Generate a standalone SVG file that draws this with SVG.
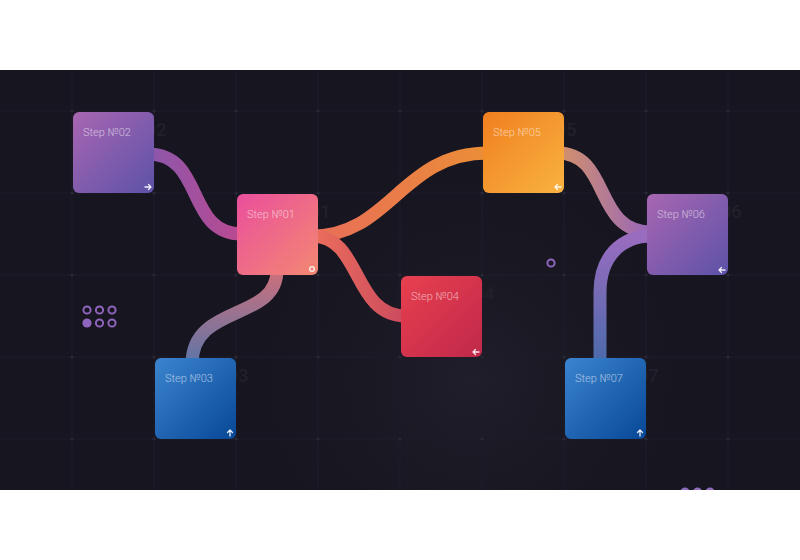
<svg xmlns="http://www.w3.org/2000/svg" width="800" height="560" viewBox="0 0 800 560">
<defs>
<style>
.grid line{stroke:#1f1d2a;stroke-width:1}
.gdot{fill:#2a2836}
.lbl{font-family:Roboto,"Liberation Sans",sans-serif;font-weight:300;font-size:11px;fill:#ffffff;fill-opacity:0.6}
.num{font-family:Roboto,"Liberation Sans",sans-serif;font-weight:500;font-size:18px;fill:#22202b}
.conn path{fill:none;stroke-width:13}
.icon{fill:none;stroke:#ffffff;stroke-opacity:0.9;stroke-width:1.3;stroke-linecap:round;stroke-linejoin:round}
.ring{fill:none;stroke:#8f64bd;stroke-width:2}
</style>
<clipPath id="dark"><rect x="0" y="70" width="800" height="420"/></clipPath>
<radialGradient id="bgGlow" cx="470" cy="380" r="260" gradientUnits="userSpaceOnUse">
<stop offset="0" stop-color="#201e2a"/><stop offset="1" stop-color="#17151f" stop-opacity="0"/>
</radialGradient>
<linearGradient id="gPurple" x1="0" y1="0" x2="1" y2="1"><stop offset="0" stop-color="#a866b2"/><stop offset="1" stop-color="#5d52a8"/></linearGradient>
<linearGradient id="gPink" x1="0" y1="0" x2="1" y2="1"><stop offset="0" stop-color="#ea4f9c"/><stop offset="1" stop-color="#f38872"/></linearGradient>
<linearGradient id="gBlue" x1="0" y1="0" x2="1" y2="1"><stop offset="0" stop-color="#3c84cf"/><stop offset="1" stop-color="#074896"/></linearGradient>
<linearGradient id="gRed" x1="0" y1="0" x2="1" y2="1"><stop offset="0" stop-color="#e8404f"/><stop offset="1" stop-color="#c0284a"/></linearGradient>
<linearGradient id="gOrange" x1="0" y1="0" x2="1" y2="1"><stop offset="0" stop-color="#f07f1f"/><stop offset="1" stop-color="#f9b341"/></linearGradient>
<linearGradient id="c1" gradientUnits="userSpaceOnUse" x1="155" y1="0" x2="237" y2="0"><stop offset="0" stop-color="#8e56aa"/><stop offset="1" stop-color="#b84a92"/></linearGradient>
<linearGradient id="c2" gradientUnits="userSpaceOnUse" x1="318" y1="0" x2="483" y2="0"><stop offset="0" stop-color="#e86e58"/><stop offset="1" stop-color="#eb8d37"/></linearGradient>
<linearGradient id="c3" gradientUnits="userSpaceOnUse" x1="318" y1="0" x2="401" y2="0"><stop offset="0" stop-color="#ea6c5c"/><stop offset="1" stop-color="#cc4c5e"/></linearGradient>
<linearGradient id="c4" gradientUnits="userSpaceOnUse" x1="0" y1="275" x2="0" y2="358"><stop offset="0" stop-color="#c8707e"/><stop offset="1" stop-color="#6575a5"/></linearGradient>
<linearGradient id="c5" gradientUnits="userSpaceOnUse" x1="563" y1="0" x2="647" y2="0"><stop offset="0" stop-color="#d18f6e"/><stop offset="1" stop-color="#9a68b8"/></linearGradient>
<linearGradient id="c6" gradientUnits="userSpaceOnUse" x1="0" y1="236" x2="0" y2="358"><stop offset="0" stop-color="#9a6cc0"/><stop offset="1" stop-color="#4e6aaa"/></linearGradient>
</defs>
<rect x="0" y="0" width="800" height="560" fill="#ffffff"/>
<rect x="0" y="70" width="800" height="420" fill="#17151f"/>
<rect x="0" y="70" width="800" height="420" fill="url(#bgGlow)"/>
<g class="grid" clip-path="url(#dark)">
<line x1="72" y1="70" x2="72" y2="490"/><line x1="154" y1="70" x2="154" y2="490"/><line x1="236" y1="70" x2="236" y2="490"/><line x1="318" y1="70" x2="318" y2="490"/><line x1="400" y1="70" x2="400" y2="490"/><line x1="482" y1="70" x2="482" y2="490"/><line x1="564" y1="70" x2="564" y2="490"/><line x1="646" y1="70" x2="646" y2="490"/><line x1="728" y1="70" x2="728" y2="490"/>
<line x1="0" y1="111" x2="800" y2="111"/><line x1="0" y1="193" x2="800" y2="193"/><line x1="0" y1="275" x2="800" y2="275"/><line x1="0" y1="357" x2="800" y2="357"/><line x1="0" y1="439" x2="800" y2="439"/>
</g>
<g class="gdot">
<circle cx="72" cy="111" r="1.6"/><circle cx="154" cy="111" r="1.6"/><circle cx="236" cy="111" r="1.6"/><circle cx="318" cy="111" r="1.6"/><circle cx="400" cy="111" r="1.6"/><circle cx="482" cy="111" r="1.6"/><circle cx="564" cy="111" r="1.6"/><circle cx="646" cy="111" r="1.6"/><circle cx="728" cy="111" r="1.6"/>
<circle cx="72" cy="193" r="1.6"/><circle cx="154" cy="193" r="1.6"/><circle cx="236" cy="193" r="1.6"/><circle cx="318" cy="193" r="1.6"/><circle cx="400" cy="193" r="1.6"/><circle cx="482" cy="193" r="1.6"/><circle cx="564" cy="193" r="1.6"/><circle cx="646" cy="193" r="1.6"/><circle cx="728" cy="193" r="1.6"/>
<circle cx="72" cy="275" r="1.6"/><circle cx="154" cy="275" r="1.6"/><circle cx="236" cy="275" r="1.6"/><circle cx="318" cy="275" r="1.6"/><circle cx="400" cy="275" r="1.6"/><circle cx="482" cy="275" r="1.6"/><circle cx="564" cy="275" r="1.6"/><circle cx="646" cy="275" r="1.6"/><circle cx="728" cy="275" r="1.6"/>
<circle cx="72" cy="357" r="1.6"/><circle cx="154" cy="357" r="1.6"/><circle cx="236" cy="357" r="1.6"/><circle cx="318" cy="357" r="1.6"/><circle cx="400" cy="357" r="1.6"/><circle cx="482" cy="357" r="1.6"/><circle cx="564" cy="357" r="1.6"/><circle cx="646" cy="357" r="1.6"/><circle cx="728" cy="357" r="1.6"/>
<circle cx="72" cy="439" r="1.6"/><circle cx="154" cy="439" r="1.6"/><circle cx="236" cy="439" r="1.6"/><circle cx="318" cy="439" r="1.6"/><circle cx="400" cy="439" r="1.6"/><circle cx="482" cy="439" r="1.6"/><circle cx="564" cy="439" r="1.6"/><circle cx="646" cy="439" r="1.6"/><circle cx="728" cy="439" r="1.6"/>
</g>
<g id="watermarks">
<text class="num" x="146" y="136">02</text>
<text class="num" x="310" y="218">01</text>
<text class="num" x="228" y="382">03</text>
<text class="num" x="474" y="300">04</text>
<text class="num" x="556" y="136">05</text>
<text class="num" x="721" y="218">06</text>
<text class="num" x="638" y="382">07</text>
</g>
<g id="decor">
<circle class="ring" cx="87" cy="310" r="3.6"/><circle class="ring" cx="99.5" cy="310" r="3.6"/><circle class="ring" cx="112" cy="310" r="3.6"/>
<circle cx="87" cy="323" r="4.6" fill="#8f64bd"/><circle class="ring" cx="99.5" cy="323" r="3.6"/><circle class="ring" cx="112" cy="323" r="3.6"/>
<circle class="ring" cx="551" cy="263" r="3.6"/>
<g clip-path="url(#dark)" fill="#8f6cbc"><circle cx="685" cy="492" r="4.5"/><circle cx="697.5" cy="492" r="4.5"/><circle cx="710" cy="492" r="4.5"/></g>
</g>
<g id="connectors" class="conn">
<path d="M148,154 C205,154 185,234 242,234" stroke="url(#c1)"/>
<path d="M312,236 C390,236 402,153 488,153" stroke="url(#c2)"/>
<path d="M312,236 C362,236 352,316 406,316" stroke="url(#c3)"/>
<path d="M277,270 C277,322 192,303 192,364" stroke="url(#c4)"/>
<path d="M557,153 C612,153 592,232 652,232" stroke="url(#c5)"/>
<path d="M652,236 C620,236 600,258 600,292 L600,364" stroke="url(#c6)"/>
</g>
<g id="step02">
<rect x="73" y="112" width="81" height="81" rx="6" fill="url(#gPurple)"/>
<text class="lbl" x="83" y="136">Step №02</text>
<path class="icon" d="M145,187 H151 M148.5,184.5 L151,187 L148.5,189.5"/>
</g>
<g id="step01">
<rect x="237" y="194" width="81" height="81" rx="6" fill="url(#gPink)"/>
<text class="lbl" x="247" y="218">Step №01</text>
<circle class="icon" cx="312" cy="269" r="2.3" stroke-width="1.6"/>
</g>
<g id="step03">
<rect x="155" y="358" width="81" height="81" rx="6" fill="url(#gBlue)"/>
<text class="lbl" x="165" y="382">Step №03</text>
<path class="icon" d="M230,436 V430 M227.5,432.5 L230,430 L232.5,432.5"/>
</g>
<g id="step04">
<rect x="401" y="276" width="81" height="81" rx="6" fill="url(#gRed)"/>
<text class="lbl" x="411" y="300">Step №04</text>
<path class="icon" d="M479,352 H473 M475.5,349.5 L473,352 L475.5,354.5"/>
</g>
<g id="step05">
<rect x="483" y="112" width="81" height="81" rx="6" fill="url(#gOrange)"/>
<text class="lbl" x="493" y="136">Step №05</text>
<path class="icon" d="M561,187 H555 M557.5,184.5 L555,187 L557.5,189.5"/>
</g>
<g id="step06">
<rect x="647" y="194" width="81" height="81" rx="6" fill="url(#gPurple)"/>
<text class="lbl" x="657" y="218">Step №06</text>
<path class="icon" d="M725,270 H719 M721.5,267.5 L719,270 L721.5,272.5"/>
</g>
<g id="step07">
<rect x="565" y="358" width="81" height="81" rx="6" fill="url(#gBlue)"/>
<text class="lbl" x="575" y="382">Step №07</text>
<path class="icon" d="M640,436 V430 M637.5,432.5 L640,430 L642.5,432.5"/>
</g>
</svg>
